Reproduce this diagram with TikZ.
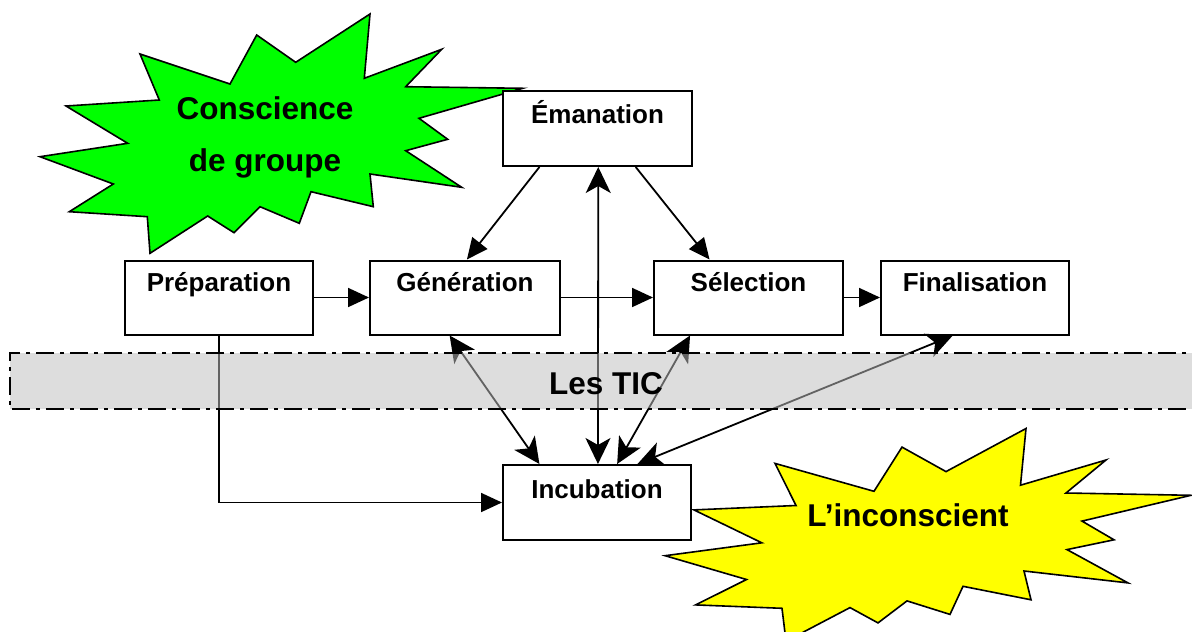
\documentclass[tikz,border=0pt]{standalone}
\usepackage{fontspec}
\setmainfont{Liberation Sans}
\usetikzlibrary{arrows.meta,calc}
\begin{document}
\begin{tikzpicture}[x=1pt,y=-1pt,
  box/.style={draw=black,line width=2pt,fill=white,minimum width=#1,minimum height=74pt,inner sep=0pt},
  lbl/.style={font=\bfseries\fontsize{26}{30}\selectfont,inner sep=0pt,anchor=base},
  bigtxt/.style={font=\bfseries\fontsize{31.5}{36}\selectfont,inner sep=0pt,anchor=base},
  star/.style={draw=black,line width=1.6pt,line join=miter},
  conn/.style={draw=black,line width=1.8pt},
  fwd/.style={conn,-{Triangle[length=21pt,width=19pt]}},
  both/.style={conn,{Stealth[length=26pt,width=25pt,inset=7pt]}-{Stealth[length=26pt,width=25pt,inset=7pt]}},
  band/.style={fill=black!26,fill opacity=0.52,draw=none},
  bandline/.style={draw=black,line width=2.2pt,dash pattern=on 18pt off 6pt on 4pt off 6pt}
]
\useasboundingbox (0,0) rectangle (1192,632);
\begin{scope}
\clip (0,0) rectangle (1192,632);

% green starburst
\draw[star,fill={rgb,255:red,0;green,255;blue,0}]
 (370,14) -- (364.3,78.3) -- (441.7,49.3) -- (405.7,86.7) -- (522.7,88.3) -- (419,118.3)
 -- (447.7,139.3) -- (405.7,150.7) -- (461.7,187.3) -- (370,174) -- (373.3,206.7)
 -- (311,191.7) -- (299.3,223.3) -- (260,206.7) -- (234,232.7) -- (207.7,216)
 -- (150,253.3) -- (147.3,216.7) -- (69.3,211.7) -- (113.3,184) -- (40,156.7)
 -- (127.7,143.3) -- (66,106) -- (159.3,100) -- (140,54) -- (230,84)
 -- (256.7,35) -- (295.7,62.3) -- cycle;

% yellow starburst
\draw[star,fill={rgb,255:red,255;green,255;blue,0}]
 (1026,428.5) -- (1020.5,485.2) -- (1106,460) -- (1066,493) -- (1191,495.3)
 -- (1082,521.1) -- (1114,539.8) -- (1067,549.6) -- (1128,582.9) -- (1024,571)
 -- (1031,599.8) -- (963,586.3) -- (950,614.4) -- (907,600.9) -- (878,622.9)
 -- (850,607.6) -- (786,641.2) -- (782,608.3) -- (695.6,604.9) -- (746.5,579.5)
 -- (665.1,555.7) -- (761.8,542.8) -- (693.9,509.9) -- (796,505.5) -- (775,463.4)
 -- (874,491.3) -- (902,447.1) -- (946,471.6) -- cycle;

% boxes
\node[box=189pt,minimum height=75pt] (em) at (597.5,128.5) {};
\node[box=188pt] (prep) at (219,297.5) {};
\node[box=190pt] (gen) at (465,297.5) {};
\node[box=189pt] (sel) at (748.5,297.5) {};
\node[box=188pt] (fin) at (975,297.5) {};
\node[box=188pt,minimum height=75pt] (inc) at (597,502.5) {};

% connectors
\draw[fwd] (prep.east) -- (gen.west);
\draw[fwd] (gen.east) -- (sel.west);
\draw[fwd] (sel.east) -- (fin.west);
\draw[fwd] ($(em.south west)!0.196!(em.south east)$) -- ($(gen.north west)!0.51!(gen.north east)$);
\draw[fwd] ($(em.south west)!0.70!(em.south east)$) -- ($(sel.north west)!0.296!(sel.north east)$);
\draw[fwd] (prep.south) |- (inc.west);
\draw[both] ($(inc.north west)!0.505!(inc.north east)$) -- ($(em.south west)!0.504!(em.south east)$);
\draw[both] ($(gen.south west)!0.42!(gen.south east)$) -- ($(inc.north west)!0.197!(inc.north east)$);
\draw[both] ($(sel.south west)!0.194!(sel.south east)$) -- ($(inc.north west)!0.606!(inc.north east)$);
\draw[both] ($(fin.south west)!0.383!(fin.south east)$) -- ($(inc.north west)!0.713!(inc.north east)$);

% TIC band
\path[band] (10,353) rectangle (1210,409);
\draw[bandline] (1210,353) -- (10,353) -- (10,409) -- (1210,409);

% labels
\node[lbl] (emT) at ($(em.north)+(0,33)$) {Émanation};
\node[lbl] (prepT) at ($(prep.north)+(0,32)$) {Préparation};
\node[lbl] (genT) at ($(gen.north)+(0,32)$) {Génération};
\node[lbl] (selT) at ($(sel.north)+(0,32)$) {Sélection};
\node[lbl] (finT) at ($(fin.north)+(0,32)$) {Finalisation};
\node[lbl] (incT) at ($(inc.north)+(0,34.5)$) {Incubation};
\node[bigtxt] (tic) at (606,394.5) {Les TIC};
\node[bigtxt] (cons) at (265,119) {Conscience};
\node[bigtxt] (grp) at (265,171) {de groupe};
\node[bigtxt] (incons) at (908,526) {L’inconscient};
\end{scope}
\end{tikzpicture}
\end{document}
